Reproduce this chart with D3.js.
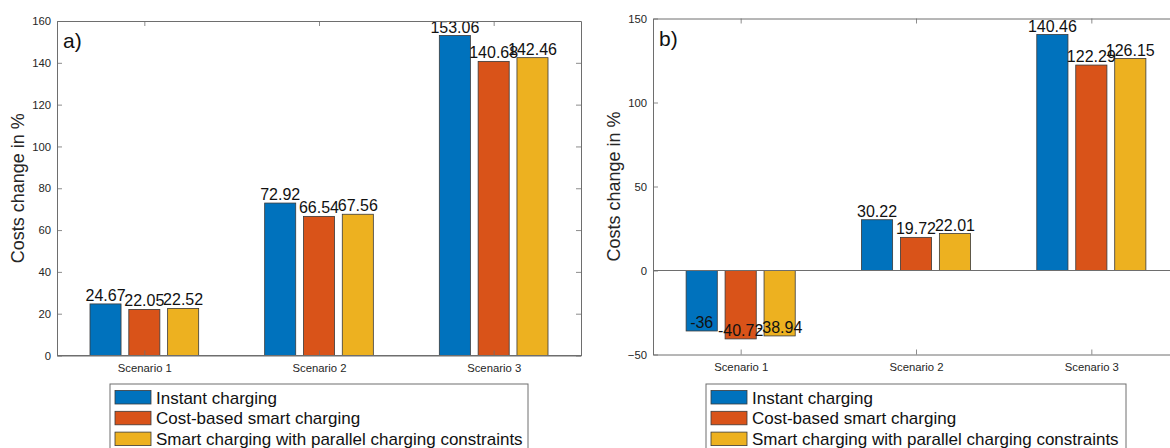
<!DOCTYPE html>
<html>
<head>
<meta charset="utf-8">
<script src="https://cdn.jsdelivr.net/npm/d3@7"></script>
<style>
  html, body { margin: 0; padding: 0; background: #fff; }
  svg { display: block; font-family: "Liberation Sans", Arial, Helvetica, sans-serif; }
</style>
</head>
<body>
<svg id="chart" width="1170" height="448"></svg>
<script>
// Scenario categories and charging strategies
const categories = ["Scenario 1", "Scenario 2", "Scenario 3"];
const seriesNames = [
  "Instant charging",
  "Cost-based smart charging",
  "Smart charging with parallel charging constraints"
];
const seriesColors = ["#0072BD", "#D95319", "#EDB120"];

// Panel a) cost change in %
const panelA_instant  = [24.67, 72.92, 153.06];
const panelA_costSmart = [22.05, 66.54, 140.68];
const panelA_parallel = [22.52, 67.56, 142.46];
const panelA_ticks = [0, 20, 40, 60, 80, 100, 120, 140, 160];

// Panel b) cost change in %
const panelB_instant  = [-36, 30.22, 140.46];
const panelB_costSmart = [-40.72, 19.72, 122.29];
const panelB_parallel = [-38.94, 22.01, 126.15];
const panelB_ticks = [-50, 0, 50, 100, 150];

const svg = d3.select("#chart");
const axisColor = "#6e6e6e";
const textColor = "#262626";

function drawPanel(cfg) {
  const { left, right, top, bottom, yDomain, ticks, series, tag, labelX } = cfg;
  const g = svg.append("g");

  const x = d3.scaleLinear().domain([0.5, categories.length + 0.5]).range([left, right]);
  const y = d3.scaleLinear().domain(yDomain).range([bottom, top]);

  const nSeries = series.length;
  const groupWidth = Math.min(0.8, nSeries / (nSeries + 1.5));
  const step = groupWidth / nSeries;
  const barW = 0.8 * step;

  // bars
  series.forEach((vals, j) => {
    const off = (j - (nSeries - 1) / 2) * step;
    g.selectAll(null)
      .data(vals)
      .enter()
      .append("rect")
      .attr("x", (d, i) => x(i + 1 + off - barW / 2))
      .attr("width", (d, i) => x(i + 1 + off + barW / 2) - x(i + 1 + off - barW / 2))
      .attr("y", d => Math.min(y(d), y(0)))
      .attr("height", d => Math.abs(y(d) - y(0)))
      .attr("fill", seriesColors[j])
      .attr("stroke", "#3a3a3a")
      .attr("stroke-width", 0.8);
  });

  // zero baseline
  g.append("line")
    .attr("x1", left).attr("x2", right)
    .attr("y1", y(0)).attr("y2", y(0))
    .attr("stroke", axisColor).attr("stroke-width", 1);

  // value labels above bar ends
  series.forEach((vals, j) => {
    const off = (j - (nSeries - 1) / 2) * step;
    g.selectAll(null)
      .data(vals)
      .enter()
      .append("text")
      .attr("x", (d, i) => x(i + 1 + off))
      .attr("y", d => y(d) - 3)
      .attr("text-anchor", "middle")
      .attr("font-size", 16)
      .attr("fill", "#111")
      .text(d => String(d));
  });

  // axes with inward ticks
  const yLeft = d3.axisLeft(y).tickValues(ticks).tickSize(-5).tickSizeOuter(0).tickPadding(6);
  const yRight = d3.axisRight(y).tickValues(ticks).tickSize(-5).tickSizeOuter(0).tickFormat("");
  const xBottom = d3.axisBottom(x).tickValues(d3.range(1, categories.length + 1))
    .tickSize(-5).tickSizeOuter(0).tickPadding(8).tickFormat(d => categories[d - 1]);
  const xTop = d3.axisTop(x).tickValues(d3.range(1, categories.length + 1))
    .tickSize(-5).tickSizeOuter(0).tickFormat("");

  const axes = [
    g.append("g").attr("transform", `translate(${left},0)`).call(yLeft),
    g.append("g").attr("transform", `translate(${right},0)`).call(yRight),
    g.append("g").attr("transform", `translate(0,${bottom})`).call(xBottom),
    g.append("g").attr("transform", `translate(0,${top})`).call(xTop)
  ];
  axes.forEach(a => {
    a.selectAll("path.domain").attr("stroke", axisColor).attr("stroke-width", 1);
    a.selectAll(".tick line").attr("stroke", axisColor).attr("stroke-width", 0.8);
    a.selectAll(".tick text").attr("fill", textColor).attr("font-size", 11.3)
      .attr("font-family", "'Liberation Sans', Arial, Helvetica, sans-serif");
  });

  // y-axis title
  g.append("text")
    .attr("transform", `translate(${labelX},${(top + bottom) / 2}) rotate(-90)`)
    .attr("text-anchor", "middle")
    .attr("dominant-baseline", "central")
    .attr("font-size", 18)
    .attr("fill", textColor)
    .text("Costs change in %");

  // panel tag
  g.append("text")
    .attr("x", left + 6)
    .attr("y", top + 27)
    .attr("font-size", 21)
    .attr("fill", "#111")
    .text(tag);

  // legend below the axes
  const lx = cfg.legendX, ly = 384, rowH = 20.8;
  g.append("rect")
    .attr("x", lx).attr("y", ly)
    .attr("width", cfg.legendW).attr("height", 70)
    .attr("fill", "#fff").attr("stroke", axisColor).attr("stroke-width", 1);
  seriesNames.forEach((name, j) => {
    g.append("rect")
      .attr("x", lx + 5).attr("y", ly + 6.5 + j * rowH)
      .attr("width", 36).attr("height", 13.5)
      .attr("fill", seriesColors[j])
      .attr("stroke", "#3a3a3a").attr("stroke-width", 0.8);
    g.append("text")
      .attr("x", lx + 46).attr("y", ly + 19.5 + j * rowH)
      .attr("font-size", 17)
      .attr("fill", "#111")
      .text(name);
  });
}

drawPanel({
  left: 57, right: 581, top: 21, bottom: 355.5,
  yDomain: [0, 160], ticks: panelA_ticks,
  series: [panelA_instant, panelA_costSmart, panelA_parallel],
  tag: "a)", labelX: 18, legendX: 110, legendW: 418
});

drawPanel({
  left: 653, right: 1179, top: 18.5, bottom: 354.5,
  yDomain: [-50, 150], ticks: panelB_ticks,
  series: [panelB_instant, panelB_costSmart, panelB_parallel],
  tag: "b)", labelX: 614, legendX: 706, legendW: 420
});
</script>
</body>
</html>
